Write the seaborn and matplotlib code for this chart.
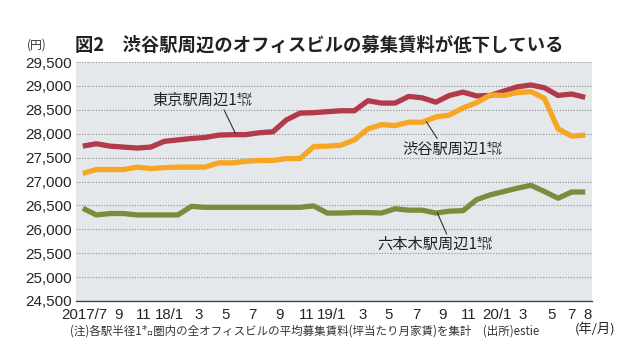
import matplotlib
matplotlib.use("Agg")
import matplotlib.pyplot as plt
from matplotlib.ticker import FuncFormatter
import seaborn as sns
import pandas as pd

# 月次データ 2017/7 - 2020/8
months = pd.period_range("2017-07", "2020-08", freq="M").strftime("%Y/%m").tolist()

tokyo = [27740, 27790, 27740, 27720, 27700, 27720, 27840, 27870, 27900, 27920,
         27970, 27980, 27980, 28020, 28040, 28290, 28430, 28440, 28460, 28480,
         28480, 28690, 28640, 28640, 28780, 28750, 28660, 28800, 28870, 28790,
         28800, 28890, 28980, 29020, 28960, 28800, 28830, 28760]
shibuya = [27170, 27250, 27250, 27250, 27300, 27270, 27290, 27300, 27300, 27300,
           27390, 27390, 27420, 27440, 27440, 27480, 27480, 27730, 27740, 27760,
           27870, 28100, 28190, 28170, 28240, 28240, 28350, 28390, 28540, 28650,
           28810, 28800, 28860, 28880, 28740, 28100, 27950, 27970]
roppongi = [26440, 26300, 26330, 26330, 26300, 26300, 26300, 26300, 26480, 26460,
            26460, 26460, 26460, 26460, 26460, 26460, 26460, 26490, 26340, 26340,
            26350, 26350, 26340, 26430, 26400, 26400, 26340, 26380, 26390, 26620,
            26720, 26790, 26860, 26920, 26790, 26650, 26780, 26780]

series_names = ["東京駅周辺", "渋谷駅周辺", "六本木駅周辺"]
colors = ["#b23a4b", "#f6a623", "#7b8c3f"]

tick_labels = ["2017/7", "9", "11", "18/1", "3", "5", "7", "9", "11", "19/1",
               "3", "5", "7", "9", "11", "20/1", "3", "5", "7", "8"]
tick_pos = [0.1, 2.6, 4.5, 6.4, 8.5, 10.5, 12.5, 14.5, 16.5, 18.3,
            20.6, 22.5, 24.6, 26.5, 28.4, 30.5, 32.4, 34.5, 36.0, 37.2]

df = pd.DataFrame({
    "idx": list(range(len(months))) * 3,
    "month": months * 3,
    "value": tokyo + shibuya + roppongi,
    "area": [n for n in series_names for _ in months],
})

sns.set_style("white")
plt.rcParams["font.family"] = ["Noto Sans CJK JP", "DejaVu Sans"]

fig = plt.figure(figsize=(6.2, 3.58), dpi=100)
ax = fig.add_axes([76 / 620, 1 - 301 / 358, (592 - 76) / 620, (301 - 62) / 358])
ax.set_facecolor("#e5e8eb")

sns.lineplot(data=df, x="idx", y="value", hue="area", hue_order=series_names,
             palette=colors, linewidth=3.8, legend=False, ax=ax,
             solid_joinstyle="round", solid_capstyle="butt")

ax.set_xlim(-0.5, 37.5)
ax.set_ylim(24500, 29500)
ax.set_yticks(range(24500, 30000, 500))
ax.yaxis.set_major_formatter(FuncFormatter(lambda v, p: f"{int(v):,}"))
for y in range(25000, 30000, 500):
    ax.axhline(y, color="#8a8f94", lw=0.8, ls=(0, (1, 1.5)), zorder=0)

for s in ["top", "right", "left"]:
    ax.spines[s].set_visible(False)
ax.spines["bottom"].set_color("#444444")
ax.spines["bottom"].set_linewidth(1.0)

ax.set_xticks(tick_pos)
ax.set_xticklabels(tick_labels, family=["Liberation Sans", "DejaVu Sans"], fontsize=10.8)
ax.set_xticks([i - 0.5 for i in range(0, 39, 2)], minor=True)
ax.tick_params(axis="x", which="major", length=0, pad=5)
ax.tick_params(axis="x", which="minor", direction="in", length=4, width=0.9, color="#444444")
ax.tick_params(axis="y", length=0, pad=3)
for lab in ax.get_yticklabels():
    lab.set_family(["Liberation Sans", "DejaVu Sans"])
    lab.set_fontsize(11)
ax.set_xlabel("")
ax.set_ylabel("")

# タイトル
fig.text(27 / 620, 1 - 45 / 358, "(円)", fontsize=8.5, va="center", ha="left", color="#333333")
fig.text(75 / 620, 1 - 45 / 358, "図2　渋谷駅周辺のオフィスビルの募集賃料が低下している",
         fontsize=13.2, fontweight="bold", va="center", ha="left", color="#222222")

# 系列ラベル
lab_kw = dict(fontsize=11, color="#222222", va="center", ha="left")
ax.text(5.1, 28700, "東京駅周辺1㌖", **lab_kw)
ax.plot([10.4, 11.25], [28500, 28000], color="#333333", lw=0.8)
ax.text(23.5, 27680, "渋谷駅周辺1㌖", **lab_kw)
ax.plot([25.3, 26.1], [28250, 27900], color="#333333", lw=0.8)
ax.text(21.7, 25690, "六本木駅周辺1㌖", **lab_kw)
ax.plot([26.1, 26.8], [26350, 25900], color="#333333", lw=0.8)

# 注記
fig.text(70 / 620, 1 - 331 / 358,
         "(注)各駅半径1㌔圏内の全オフィスビルの平均募集賃料(坪当たり月家賃)を集計　(出所)estie",
         fontsize=8.3, va="center", ha="left", color="#333333")
fig.text(615 / 620, 1 - 329 / 358, "(年/月)", fontsize=9.5, va="center", ha="right",
         color="#222222")

fig.savefig("out.png", dpi=100, facecolor="white")
